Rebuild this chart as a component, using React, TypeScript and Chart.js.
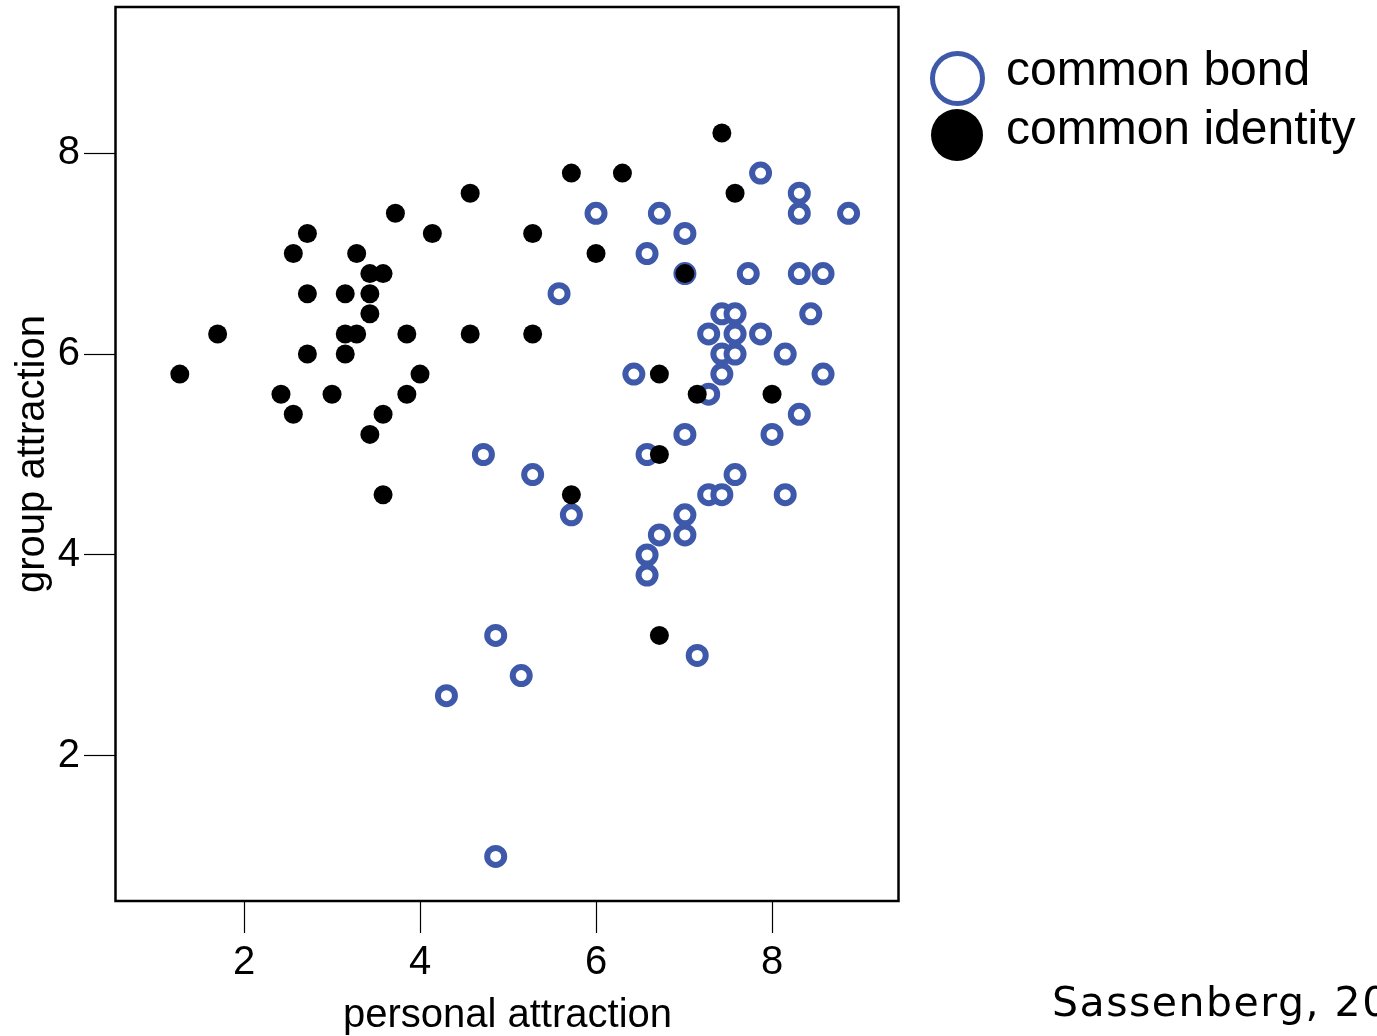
import React, { useEffect, useRef } from "react";
import { Chart, registerables } from "chart.js";

Chart.register(...registerables);

// common bond (open blue rings)
const bondX = [4.30, 4.72, 4.86, 4.86, 5.15, 5.28, 5.58, 5.72, 6.00, 6.43, 6.58, 6.58, 6.58, 6.58, 6.72, 6.72, 7.01, 7.01, 7.01, 7.01, 7.01, 7.15, 7.28, 7.28, 7.28, 7.43, 7.43, 7.43, 7.43, 7.58, 7.58, 7.58, 7.58, 7.73, 7.87, 7.87, 8.00, 8.15, 8.15, 8.31, 8.31, 8.31, 8.31, 8.44, 8.58, 8.58, 8.87];
const bondY = [2.6, 5.0, 3.2, 1.0, 2.8, 4.8, 6.6, 4.4, 7.4, 5.8, 7.0, 5.0, 4.0, 3.8, 7.4, 4.2, 7.2, 6.8, 5.2, 4.4, 4.2, 3.0, 6.2, 5.6, 4.6, 6.4, 6.0, 5.8, 4.6, 6.4, 6.2, 6.0, 4.8, 6.8, 7.8, 6.2, 5.2, 6.0, 4.6, 7.6, 7.4, 6.8, 5.4, 6.4, 6.8, 5.8, 7.4];

// common identity (filled black dots)
const identityX = [1.27, 1.70, 2.42, 2.56, 2.56, 2.72, 2.72, 2.72, 3.00, 3.15, 3.15, 3.15, 3.28, 3.28, 3.43, 3.43, 3.43, 3.43, 3.58, 3.58, 3.58, 3.72, 3.85, 3.85, 4.00, 4.14, 4.57, 4.57, 5.28, 5.28, 5.72, 5.72, 6.00, 6.30, 6.72, 6.72, 6.72, 7.01, 7.15, 7.43, 7.58, 8.00];
const identityY = [5.8, 6.2, 5.6, 5.4, 7.0, 7.2, 6.6, 6.0, 5.6, 6.6, 6.2, 6.0, 7.0, 6.2, 6.8, 6.6, 6.4, 5.2, 6.8, 5.4, 4.6, 7.4, 6.2, 5.6, 5.8, 7.2, 7.6, 6.2, 7.2, 6.2, 7.8, 4.6, 7.0, 7.8, 5.8, 5.0, 3.2, 6.8, 5.6, 8.2, 7.6, 5.6];

const xTicks = [2, 4, 6, 8];
const yTicks = [2, 4, 6, 8];

const seriesNames = ["common bond", "common identity"];
const xTitle = "personal attraction";
const yTitle = "group attraction";
const sourceNote = "Sassenberg, 20";

const BLUE = "#3F59AA";
const FONT = "'Liberation Sans', Arial, sans-serif";

const boxPlugin = {
  id: "plotBox",
  afterDraw(chart: any) {
    const { ctx, chartArea } = chart;
    ctx.save();
    ctx.strokeStyle = "#000";
    ctx.lineWidth = 2.5;
    ctx.strokeRect(chartArea.left - 0.5, chartArea.top, chartArea.right - chartArea.left, chartArea.bottom - chartArea.top);
    ctx.restore();
  },
};

export default function App() {
  const ref = useRef<HTMLCanvasElement>(null);

  useEffect(() => {
    if (!ref.current) return;
    const chart = new Chart(ref.current, {
      type: "scatter",
      data: {
        datasets: [
          {
            label: seriesNames[0],
            data: bondX.map((x, i) => ({ x, y: bondY[i] })),
            pointStyle: "circle",
            pointRadius: 8.5,
            pointBorderWidth: 6,
            borderColor: BLUE,
            backgroundColor: "#ffffff",
            order: 1,
          },
          {
            label: seriesNames[1],
            data: identityX.map((x, i) => ({ x, y: identityY[i] })),
            pointStyle: "circle",
            pointRadius: 9.5,
            pointBorderWidth: 0,
            borderColor: "#000000",
            backgroundColor: "#000000",
            order: 0,
          },
        ],
      },
      options: {
        responsive: false,
        animation: false,
        events: [],
        layout: { autoPadding: false, padding: { top: 7, right: 478, bottom: 0, left: 0 } },
        plugins: { legend: { display: false }, tooltip: { enabled: false } },
        scales: {
          x: {
            type: "linear",
            min: 0.545,
            max: 9.443,
            afterFit: (s: any) => { s.height = 135; s.paddingLeft = 0; s.paddingRight = 0; },
            afterBuildTicks: (s: any) => { s.ticks = xTicks.map((v) => ({ value: v })); },
            border: { display: false },
            grid: { drawOnChartArea: false, drawTicks: true, tickLength: 32, tickColor: "#000", tickWidth: 1.2 },
            ticks: { color: "#000", font: { family: FONT, size: 40 }, padding: 6, maxRotation: 0, autoSkip: false },
            title: { display: true, text: xTitle, color: "#000", font: { family: FONT, size: 40, lineHeight: 1.0 }, padding: { top: 0, bottom: 0 } },
          },
          y: {
            type: "linear",
            min: 0.557,
            max: 9.453,
            afterFit: (s: any) => { s.width = 116; s.paddingTop = 0; s.paddingBottom = 0; },
            afterBuildTicks: (s: any) => { s.ticks = yTicks.map((v) => ({ value: v })); },
            border: { display: false },
            grid: { drawOnChartArea: false, drawTicks: true, tickLength: 32, tickColor: "#000", tickWidth: 1.2 },
            ticks: { color: "#000", font: { family: FONT, size: 40 }, padding: 4, autoSkip: false },
            title: { display: true, text: yTitle, color: "#000", font: { family: FONT, size: 40, lineHeight: 1.2 }, padding: { top: 9, bottom: 0 } },
          },
        },
      },
      plugins: [boxPlugin],
    });
    return () => chart.destroy();
  }, []);

  return (
    <div style={{ position: "absolute", left: 0, top: 0, width: 1377, height: 1036, overflow: "hidden", background: "#fff" }}>
      <canvas ref={ref} width={1377} height={1036} style={{ display: "block" }} />
      <div style={{ position: "absolute", left: 957 - 27.5, top: 78 - 27.5, width: 55, height: 55, borderRadius: "50%", border: `5px solid ${BLUE}`, boxSizing: "border-box" }} />
      <div style={{ position: "absolute", left: 957 - 26, top: 135 - 26, width: 52, height: 52, borderRadius: "50%", background: "#000" }} />
      <div style={{ position: "absolute", left: 1006, top: 45, font: `48px ${FONT}`, lineHeight: 1, whiteSpace: "nowrap", color: "#000" }}>{seriesNames[0]}</div>
      <div style={{ position: "absolute", left: 1006, top: 104, font: `48px ${FONT}`, lineHeight: 1, whiteSpace: "nowrap", color: "#000" }}>{seriesNames[1]}</div>
      <div style={{ position: "absolute", left: 1052, top: 982, font: "41px 'DejaVu Sans', sans-serif", letterSpacing: "1.5px", lineHeight: 1, whiteSpace: "nowrap", color: "#000" }}>{sourceNote}</div>
    </div>
  );
}
